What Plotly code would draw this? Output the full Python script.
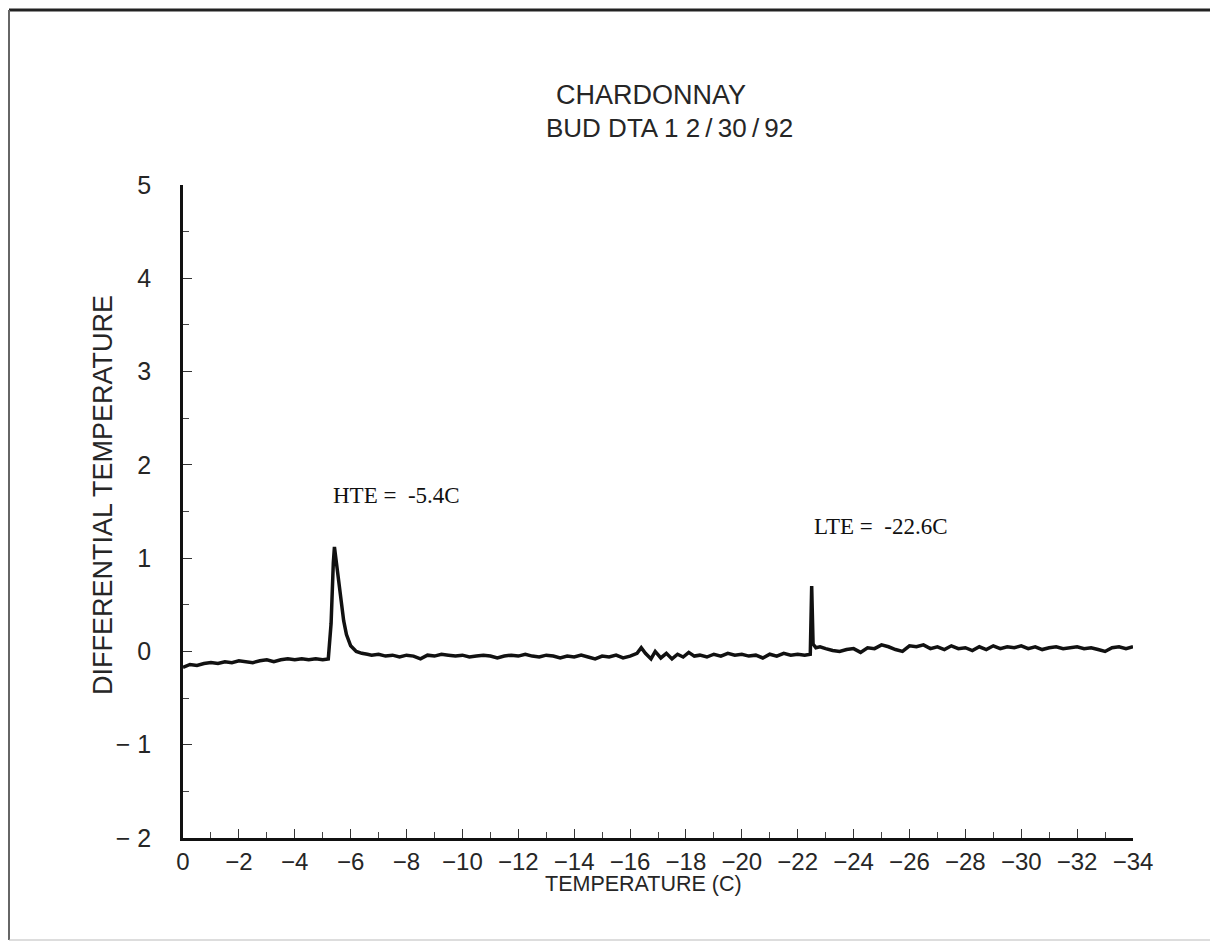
import plotly.graph_objects as go

# ---- data ----
temperature = [
    0.0, -0.25, -0.5, -0.75, -1.0, -1.25, -1.5, -1.75, -2.0, -2.25, -2.5, -2.75,
    -3.0, -3.25, -3.5, -3.75, -4.0, -4.25, -4.5, -4.75, -5.0, -5.2,
    -5.3, -5.38, -5.42, -5.47, -5.55, -5.65, -5.75, -5.85, -6.0, -6.2, -6.4, -6.6,
    -6.75, -7.0, -7.25, -7.5, -7.75, -8.0, -8.25, -8.5, -8.75, -9.0, -9.25, -9.5,
    -9.75, -10.0, -10.25, -10.5, -10.75, -11.0, -11.25, -11.5, -11.75, -12.0,
    -12.25, -12.5, -12.75, -13.0, -13.25, -13.5, -13.75, -14.0, -14.25, -14.5,
    -14.75, -15.0, -15.25, -15.5, -15.75, -16.0,
    -16.25, -16.4, -16.55, -16.75, -16.9, -17.1, -17.3, -17.5, -17.7, -17.9,
    -18.1, -18.3, -18.5, -18.75, -19.0, -19.25, -19.5, -19.75, -20.0, -20.25,
    -20.5, -20.75, -21.0, -21.25, -21.5, -21.75, -22.0, -22.25, -22.45,
    -22.5, -22.55, -22.65, -22.8, -23.0, -23.25, -23.5, -23.75, -24.0, -24.25,
    -24.5, -24.75, -25.0, -25.25, -25.5, -25.75, -26.0, -26.25, -26.5, -26.75,
    -27.0, -27.25, -27.5, -27.75, -28.0, -28.25, -28.5, -28.75, -29.0, -29.25,
    -29.5, -29.75, -30.0, -30.25, -30.5, -30.75, -31.0, -31.25, -31.5, -31.75,
    -32.0, -32.25, -32.5, -32.75, -33.0, -33.25, -33.5, -33.75, -34.0,
]
diff_temp = [
    -0.17, -0.14, -0.15, -0.13, -0.12, -0.13, -0.11, -0.12, -0.10, -0.11, -0.12, -0.10,
    -0.09, -0.11, -0.09, -0.08, -0.09, -0.08, -0.09, -0.08, -0.09, -0.08,
    0.30, 0.95, 1.12, 1.00, 0.80, 0.55, 0.33, 0.18, 0.06, 0.00, -0.02, -0.03,
    -0.04, -0.03, -0.05, -0.04, -0.06, -0.04, -0.05, -0.08, -0.04, -0.05, -0.03, -0.04,
    -0.05, -0.04, -0.06, -0.05, -0.04, -0.05, -0.07, -0.05, -0.04, -0.05,
    -0.03, -0.05, -0.06, -0.04, -0.05, -0.07, -0.05, -0.06, -0.04, -0.06,
    -0.08, -0.05, -0.06, -0.04, -0.07, -0.05,
    -0.02, 0.04, -0.02, -0.08, 0.00, -0.07, -0.02, -0.08, -0.03, -0.06,
    -0.01, -0.05, -0.04, -0.06, -0.03, -0.05, -0.02, -0.04, -0.03, -0.05,
    -0.04, -0.07, -0.03, -0.05, -0.02, -0.04, -0.03, -0.04, -0.03,
    0.70, 0.08, 0.04, 0.05, 0.03, 0.01, 0.00, 0.02, 0.03, -0.01,
    0.04, 0.03, 0.07, 0.05, 0.02, 0.00, 0.06, 0.05, 0.07, 0.03,
    0.05, 0.02, 0.06, 0.03, 0.04, 0.01, 0.05, 0.02, 0.06, 0.03,
    0.05, 0.04, 0.06, 0.03, 0.05, 0.02, 0.04, 0.05, 0.03, 0.04,
    0.05, 0.03, 0.04, 0.02, 0.00, 0.04, 0.05, 0.03, 0.05,
]
x_ticks = [0, -2, -4, -6, -8, -10, -12, -14, -16, -18, -20, -22, -24, -26, -28, -30, -32, -34]
x_tick_text = ["0"] + ["\u2212" + str(-v) for v in x_ticks[1:]]
y_ticks = [-2, -1, 0, 1, 2, 3, 4, 5]
y_tick_text = ["\u2212 2", "\u2212 1", "0", "1", "2", "3", "4", "5"]

title_main = "CHARDONNAY"
title_sub = "BUD DTA 1 2\u2009/\u200930\u2009/\u200992"
x_title = "TEMPERATURE (C)"
y_title = "DIFFERENTIAL TEMPERATURE"
hte_label = "HTE = &nbsp;-5.4C"
lte_label = "LTE = &nbsp;-22.6C"

# ---- layout geometry (reference pixels; page body has an 8px margin) ----
OFF = 8
W, H = 1218 - OFF, 944 - OFF
L, R, T, B = 183, 1133, 185, 838
pw, ph = R - L, B - T


def px(x):
    return (x - L) / pw


def py(y):
    return (B - y) / ph


SANS = "Liberation Sans Narrow, Arial Narrow, Liberation Sans, sans-serif"
SERIF = "Liberation Serif, Times New Roman, serif"
INK = "#262626"

fig = go.Figure()
fig.add_trace(go.Scatter(
    x=temperature, y=diff_temp, mode="lines",
    line=dict(color="#111111", width=3.5),
    hoverinfo="skip", showlegend=False,
))

fig.update_layout(
    width=W, height=H,
    margin=dict(l=L - OFF, r=W - (R - OFF), t=T - OFF, b=H - (B - OFF), autoexpand=False),
    paper_bgcolor="white", plot_bgcolor="white",
    showlegend=False,
    font=dict(family=SANS, color=INK),
    xaxis=dict(
        range=[0, -34], showgrid=False, zeroline=False,
        showline=True, linecolor="#111111", linewidth=2.5,
        tickmode="array", tickvals=x_ticks, ticktext=x_tick_text,
        ticks="inside", ticklen=9, tickwidth=1.2, tickcolor="#333333",
        minor=dict(dtick=1, ticks="inside", ticklen=6, tickwidth=1, tickcolor="#444444"),
        tickfont=dict(family=SANS, size=24, color=INK),
        ticklabelstandoff=0,
    ),
    yaxis=dict(
        range=[-2, 5], showgrid=False, zeroline=False,
        showline=True, linecolor="#111111", linewidth=2.5,
        tickmode="array", tickvals=y_ticks, ticktext=y_tick_text,
        ticks="inside", ticklen=9, tickwidth=1.2, tickcolor="#333333",
        minor=dict(dtick=0.5, tick0=0, ticks="inside", ticklen=6, tickwidth=1, tickcolor="#444444"),
        tickfont=dict(family=SANS, size=25, color=INK),
        ticklabelstandoff=24,
    ),
)

ann = [
    dict(text=title_main, x=px(651), y=py(95), font=dict(family=SANS, size=27, color=INK)),
    dict(text=title_sub, x=px(669), y=py(128), font=dict(family=SANS, size=26, color=INK)),
    dict(text=x_title, x=px(643), y=py(884), font=dict(family=SANS, size=21.5, color=INK)),
    dict(text=y_title, x=px(103), y=py(495), textangle=-90, font=dict(family=SANS, size=27, color=INK)),
]
for a in ann:
    fig.add_annotation(xref="paper", yref="paper", showarrow=False,
                       xanchor="center", yanchor="middle", **a)

fig.add_annotation(x=-5.3, y=1.67, xref="x", yref="y", text=hte_label, showarrow=False,
                   xanchor="left", yanchor="middle", font=dict(family=SERIF, size=23, color="#111111"))
fig.add_annotation(x=-22.5, y=1.34, xref="x", yref="y", text=lte_label, showarrow=False,
                   xanchor="left", yanchor="middle", font=dict(family=SERIF, size=23, color="#111111"))

# scanned page frame (reference pixel positions)
frame = [
    (9, 10, 1213, 10, "#222222", 3),
    (9, 10, 9, 940, "#666666", 2),
    (1213, 10, 1213, 940, "#bbbbbb", 1),
    (9, 940, 1213, 940, "#bbbbbb", 1),
]
for x0, y0, x1, y1, c, w in frame:
    fig.add_shape(type="line", xref="paper", yref="paper",
                  x0=px(x0), y0=py(y0), x1=px(x1), y1=py(y1),
                  line=dict(color=c, width=w))

fig.write_html("out.html")
